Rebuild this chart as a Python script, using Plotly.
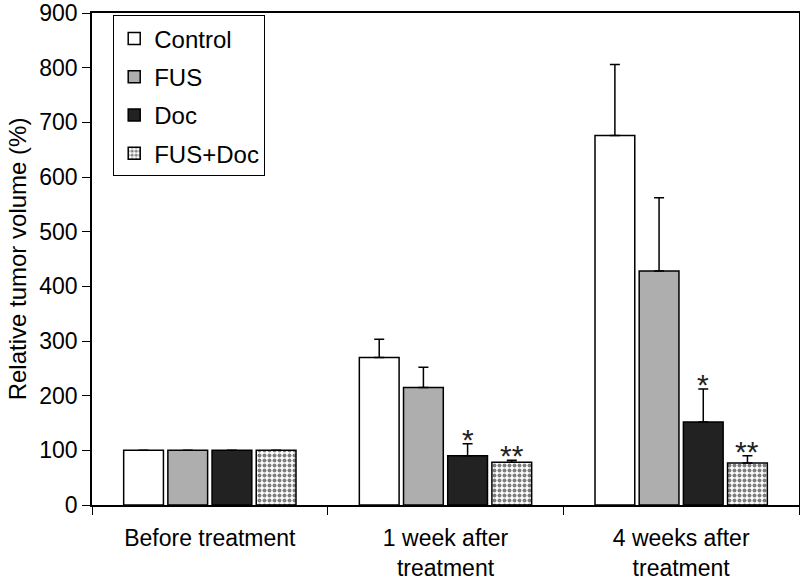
import plotly.graph_objects as go

categories = ["Before treatment", "1 week after<br>treatment", "4 weeks after<br>treatment"]
series_names = ["Control", "FUS", "Doc", "FUS+Doc"]
control = [100, 270, 676]
fus = [100, 215, 428]
doc = [100, 90, 152]
fus_doc = [100, 78, 77]
control_err = [0, 33, 130]
fus_err = [0, 37, 134]
doc_err = [0, 22, 60]
fus_doc_err = [0, 4, 13]
doc_marks = ["", "*", "*"]
fus_doc_marks = ["", "**", "**"]

font = "Arial, Liberation Sans, sans-serif"

styles = [
    dict(color="white"),
    dict(color="#aeaeae"),
    dict(color="#222222"),
    dict(color="white", pattern=dict(shape=".", fgcolor="black", bgcolor="white", size=5, solidity=0.5)),
]

fig = go.Figure()
for name, vals, errs, st in zip(series_names, [control, fus, doc, fus_doc],
                                [control_err, fus_err, doc_err, fus_doc_err], styles):
    fig.add_trace(go.Bar(
        x=categories, y=vals, name=name, legendgroup=name,
        marker=dict(line=dict(color="black", width=1.5), **st),
        error_y=dict(type="data", symmetric=False, array=errs, arrayminus=[0] * len(errs),
                     color="black", thickness=1.5, width=5),
    ))

# significance stars above Doc and FUS+Doc error bars
slot = 707 / 3 * 0.75 / 4
for marks, vals, errs, idx in [(doc_marks, doc, doc_err, 2), (fus_doc_marks, fus_doc, fus_doc_err, 3)]:
    for c, m, v, e in zip(categories, marks, vals, errs):
        if m:
            fig.add_annotation(x=c, y=v + e, text=m, showarrow=False, yanchor="bottom",
                               xshift=(idx - 1.5) * slot, yshift=-14,
                               font=dict(family=font, size=30, color="#222"))

fig.update_layout(
    width=800, height=584,
    margin=dict(l=92, r=1, t=13, b=79),
    paper_bgcolor="white", plot_bgcolor="white",
    barmode="group", bargap=0.25, bargroupgap=0.1,
    font=dict(family=font, size=24, color="black"),
    showlegend=True,
    legend=dict(x=0.03, y=0.995, xanchor="left", yanchor="top",
                bordercolor="black", borderwidth=1, bgcolor="white",
                font=dict(size=24), tracegroupgap=4, traceorder="grouped"),
)
fig.update_xaxes(showline=True, linecolor="black", linewidth=1.5, mirror=True,
                 ticks="outside", ticklen=8, tickson="boundaries", tickcolor="black",
                 ticklabelstandoff=12, tickfont=dict(size=23), automargin=False)
fig.update_yaxes(range=[0, 900], dtick=100, showgrid=False, zeroline=False,
                 showline=True, linecolor="black", linewidth=1.5, mirror=True,
                 ticks="outside", ticklen=8, tickcolor="black",
                 tickfont=dict(size=23), automargin=False, ticklabeloverflow="allow",
                 title=dict(text="Relative tumor volume (%)", font=dict(size=24), standoff=6))

fig.write_html("out.html", config={"displayModeBar": False},
               post_script="document.body.style.margin='0';")
